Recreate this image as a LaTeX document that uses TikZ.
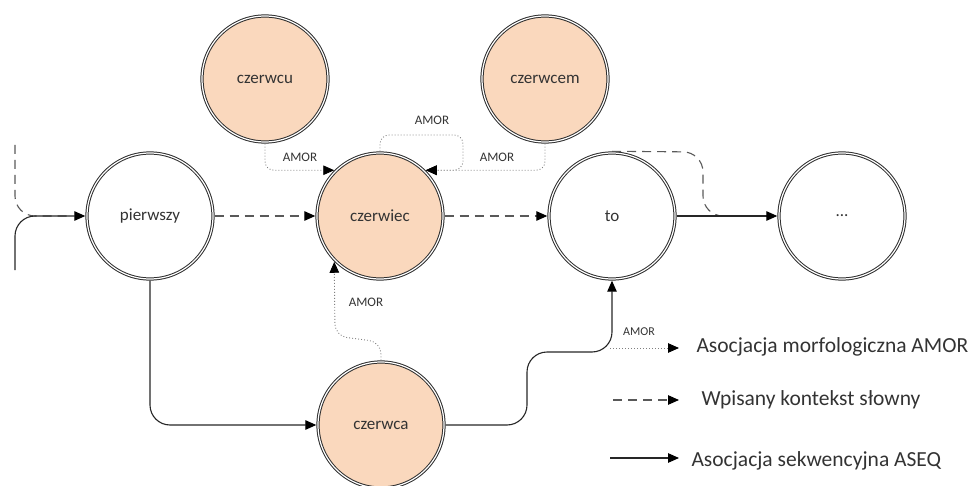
\documentclass[tikz,border=0pt]{standalone}
\usepackage{fontspec}
\setmainfont{Carlito}
\usetikzlibrary{arrows.meta}
\definecolor{peach}{HTML}{FAD8BD}
\definecolor{ring}{HTML}{2E2E2E}
\definecolor{ink}{HTML}{333333}
\begin{document}
\begin{tikzpicture}[x=1pt,y=-1pt,
  state/.style={circle, draw=ring, double=white, double distance=1.2pt, line width=1pt,
    minimum size=126pt, inner sep=0pt, outer sep=1.7pt, font=\fontsize{17}{20}\selectfont, text=ink},
  form/.style={state, fill=peach},
  tip/.style={-{Triangle[length=11pt,width=9.5pt,color=black]}},
  seq/.style={line width=1.1pt, draw=black!85},
  ctx/.style={line width=1.1pt, draw=black!65, dash pattern=on 9pt off 6pt},
  amor/.style={line width=0.9pt, draw=black!50, dash pattern=on 0.9pt off 2.1pt},
  amorlabel/.style={font=\fontsize{13}{15}\selectfont, text=ink},
  legendtext/.style={anchor=base west, font=\fontsize{21.5}{24}\selectfont, text=ink}]
\useasboundingbox (0,0) rectangle (968,486);

% word nodes
\node[state] (pierwszy) at (150,216) {pierwszy};
\node[form]  (czerwiec) at (380,216) {czerwiec};
\node[form]  (czerwcu)  at (265,79)  {czerwcu};
\node[form]  (czerwcem) at (545,79)  {czerwcem};
\node[state] (to)       at (612,216) {to};
\node[state] (dots)     at (842,216) {...};
\node[form]  (czerwca)  at (381,425) {czerwca};

% incoming context and sequence into the first word
\coordinate (inCtx) at (15,145);
\coordinate (inSeq) at (15,270);
\draw[ctx, rounded corners=20pt] (inCtx) -- (15,216) -- (70,216);
\draw[seq, tip, rounded corners=20pt] (inSeq) -- (15,216) -- (pierwszy.west);

% written context chain
\draw[ctx, tip] (pierwszy.east) -- (czerwiec.west);
\draw[ctx, tip] (czerwiec.east) -- (to.west);
\draw[ctx, rounded corners=20pt] (to.north) -- (703,152) -- (703,216) -- (760,216);

% sequential associations
\draw[seq, tip] (to.east) -- (dots.west);
\draw[seq, tip, rounded corners=20pt] (pierwszy.south) -- (150,425) -- (czerwca.west);
\draw[seq, tip, rounded corners=20pt] (czerwca.east) -- (527,425) -- (527,352) -- (612,352) -- (to.south);

% morphological associations
\coordinate (loopR) at (463,135);
\draw[amor, tip, rounded corners=9pt] (czerwcu.south) -- (czerwcu.south |- czerwiec.135) -- (czerwiec.135);
\draw[amor, tip, rounded corners=9pt] (czerwcem.south) -- (czerwcem.south |- czerwiec.45) -- (czerwiec.45);
\draw[amor, tip, rounded corners=9pt] (czerwiec.north) -- (380,135) -- (loopR) -- (loopR |- czerwiec.45) -- (czerwiec.45);
\draw[amor, tip, rounded corners=12pt] (czerwca.north) -- (381,342) -- (335,336) -- (czerwiec.225);

\node[amorlabel] (l1) at (300,157) {AMOR};
\node[amorlabel] (l2) at (497,157) {AMOR};
\node[amorlabel] (l3) at (432,120) {AMOR};
\node[amorlabel] (l4) at (366,302) {AMOR};

% legend
\coordinate (a1) at (610,348); \coordinate (b1) at (679,348);
\coordinate (a2) at (613,400); \coordinate (b2) at (679,400);
\coordinate (a3) at (610,458); \coordinate (b3) at (679,458);
\draw[amor, tip] (a1) -- (b1);
\draw[ctx, tip] (a2) -- (b2);
\draw[seq, tip] (a3) -- (b3);
\node[amorlabel, font=\fontsize{12}{14}\selectfont] (l5) at (639,332) {AMOR};
\node[legendtext] (t1) at (693,352) {Asocjacja morfologiczna AMOR};
\node[legendtext] (t2) at (698,405) {Wpisany kontekst słowny};
\node[legendtext] (t3) at (688,466) {Asocjacja sekwencyjna ASEQ};
\end{tikzpicture}
\end{document}
